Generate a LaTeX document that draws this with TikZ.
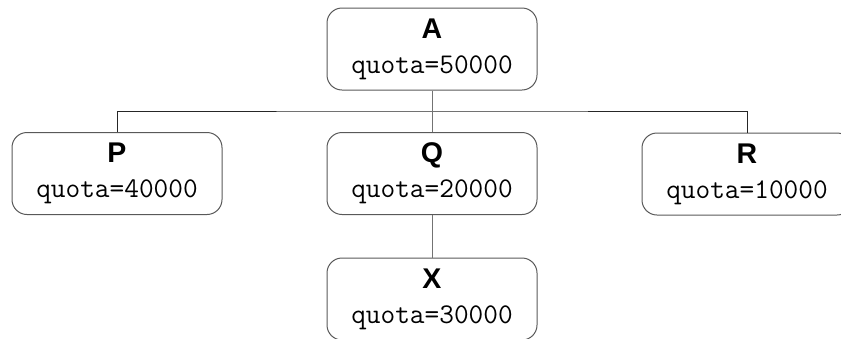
\documentclass[tikz,border=0pt]{standalone}
\usepackage{fontspec}
\newfontfamily\headfont{Liberation Sans}
\begin{document}
\begin{tikzpicture}[x=1pt,y=-1pt,
  quotabox/.style={draw=black!65, line width=1pt, rounded corners=15pt,
    minimum width=210pt, minimum height=82pt, inner sep=0pt, align=center,
    font=\fontsize{28.5}{35}\selectfont},
  trunk/.style={draw=black!55, line width=1pt},
  branch/.style={draw=black!85, line width=1pt}]
\useasboundingbox (0,0) rectangle (841,338);
\clip (0,0) rectangle (841,338);
\newcommand{\qbox}[2]{{\headfont\bfseries #1}\\\texttt{quota=#2}}
\node[quotabox] (A) at (432,49)    {\qbox{A}{50000}};
\node[quotabox] (P) at (117,173.5) {\qbox{P}{40000}};
\node[quotabox] (Q) at (432,173.5) {\qbox{Q}{20000}};
\node[quotabox] (R) at (747,174)   {\qbox{R}{10000}};
\node[quotabox] (X) at (432,299)   {\qbox{X}{30000}};
\coordinate (bar) at (432,111);
\draw[branch] (P.north) |- (bar) -| (R.north);
\draw[trunk] (A.south) -- (Q.north);
\draw[trunk] (Q.south) -- (X.north);
\end{tikzpicture}
\end{document}
